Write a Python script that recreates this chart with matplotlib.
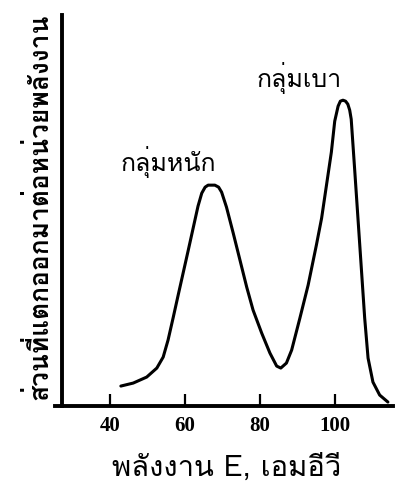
import numpy as np
import matplotlib
matplotlib.use('Agg')
import matplotlib.pyplot as plt
from matplotlib import font_manager
from matplotlib.ft2font import FT2Font

energy = [42.9, 46.2, 49.8, 52.5, 54.2, 55.5, 56.9, 58.2, 59.1, 60.9, 62.2,
          63.5, 64.5, 65.4, 66.2, 68.0, 69.0, 69.8, 71.1, 72.9, 74.7, 76.5,
          78.2, 80.5, 82.7, 84.5, 85.6, 87.1, 88.5, 90.7, 92.9, 95.1, 96.5,
          97.8, 99.1, 100.0, 100.9, 101.5, 102.2, 102.9, 103.5, 104.0, 104.4,
          105.3, 106.2, 107.1, 108.0, 108.9, 110.2, 112.0, 114.2]
frag_yield = [20, 23, 29, 38, 49, 66, 89, 111, 126, 156, 178,
              200, 213, 219, 221, 221, 219, 214, 199, 173, 146, 119,
              96, 73, 53, 40, 38, 43, 56, 88, 121, 161, 188,
              221, 254, 285, 300, 305, 306, 305, 302, 296, 287,
              238, 188, 138, 88, 48, 24, 11, 4]
xticks = [40, 60, 80, 100]

heavy_label = 'กลุ่มหนัก'
light_label = 'กลุ่มเบา'
xlabel = 'พลังงาน E, เอมอีวี'
ylabel = 'ส่วนที่แตกออกมาต่อหน่วยพลังงาน'


def thai_font():
    # look for any installed font that has Thai glyphs
    for f in font_manager.fontManager.ttflist:
        try:
            if 0x0E01 in FT2Font(f.fname).get_charmap():
                return f.name
        except Exception:
            pass
    return 'DejaVu Sans'


thai = thai_font()
fam = [thai, 'DejaVu Sans']

fig = plt.figure(figsize=(4.10, 4.91), dpi=100)
ax = fig.add_axes([0.134, 0.173, 0.824, 0.796])

ax.plot(energy, frag_yield, color='black', lw=2.2, solid_joinstyle='round',
        solid_capstyle='round')

ax.set_xlim(25.3, 115.5)
ax.set_ylim(0, 391)
ax.spines['top'].set_visible(False)
ax.spines['right'].set_visible(False)
ax.spines['left'].set_position(('data', 27.2))
ax.spines['left'].set_linewidth(2.8)
ax.spines['bottom'].set_linewidth(2.8)
ax.set_yticks([])
ax.set_xticks(xticks)
ax.set_xticklabels([str(t) for t in xticks], family='Liberation Serif',
                   fontweight='bold', fontsize=15)
ax.tick_params(axis='x', direction='in', length=9, width=1.6, pad=7)

ax.text(55.6, 235, heavy_label, family=fam, fontsize=18, ha='center', va='baseline')
ax.text(90.4, 319, light_label, family=fam, fontsize=18, ha='center', va='baseline')

fig.text(0.553, 0.047, xlabel, family=fam, fontsize=21, ha='center', va='center')
fig.text(0.093, 0.578, ylabel, family=fam, fontsize=19, fontweight='bold',
         rotation=90, ha='center', va='center')

fig.savefig('out.png', dpi=100)
